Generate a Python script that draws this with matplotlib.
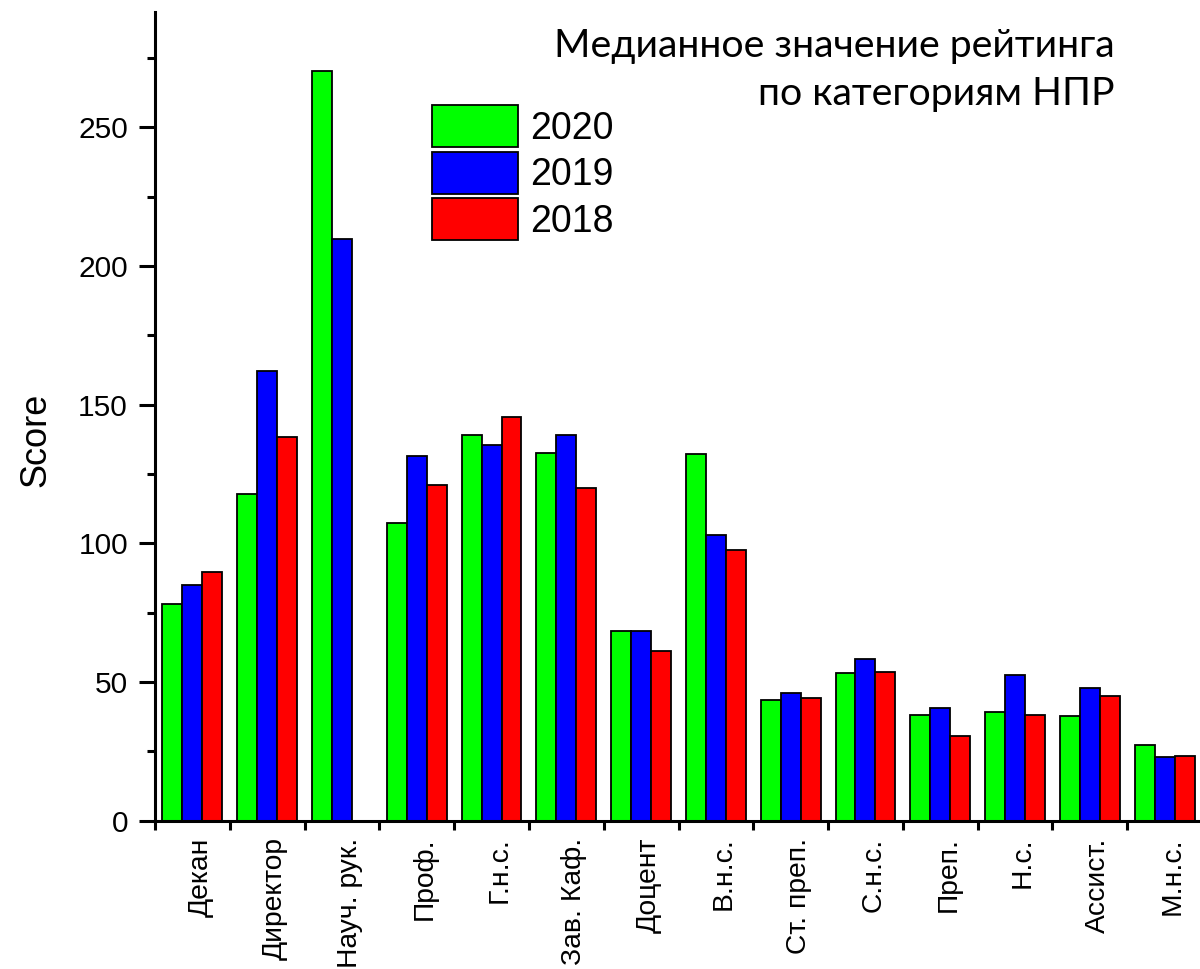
import matplotlib
matplotlib.use('Agg')
import matplotlib.pyplot as plt
import matplotlib.transforms as mtransforms
from matplotlib.ticker import MultipleLocator
import numpy as np

# categories and medians
categories = ['Декан', 'Директор', 'Науч. рук.', 'Проф.', 'Г.н.с.', 'Зав. Каф.', 'Доцент',
              'В.н.с.', 'Ст. преп.', 'С.н.с.', 'Преп.', 'Н.с.', 'Ассист.', 'М.н.с.']
vals_2020 = [78.2, 117.8, 270.2, 107.5, 139.1, 132.5, 68.5, 132.3, 43.7, 53.2, 38.1, 39.2, 37.9, 27.3]
vals_2019 = [84.9, 162.0, 209.8, 131.4, 135.4, 139.1, 68.5, 103.1, 46.2, 58.4, 40.6, 52.6, 47.8, 22.9]
vals_2018 = [89.7, 138.5, 0.0, 121.1, 145.5, 119.9, 61.3, 97.7, 44.3, 53.8, 30.5, 38.3, 44.9, 23.2]
years = ['2020', '2019', '2018']
colors = ['#00FF00', '#0000FF', '#FF0000']

plt.rcParams['font.family'] = ['Liberation Sans', 'DejaVu Sans']

fig = plt.figure(figsize=(12, 9.69), dpi=100)
ax = fig.add_axes([155 / 1200, 1 - 820.8 / 969, 1047 / 1200, 808.8 / 969])

x = np.arange(len(categories))
w = 0.267
for i, (vals, lab, c) in enumerate(zip([vals_2020, vals_2019, vals_2018], years, colors)):
    ax.bar(x + (i - 1) * w, vals, width=w, color=c, edgecolor='black',
           linewidth=1.3, label=lab, zorder=2)

ax.set_xlim(-0.5, len(categories) - 0.5)
ax.set_ylim(0, 291.6)

for s in ['top', 'right']:
    ax.spines[s].set_visible(False)
for s in ['left', 'bottom']:
    ax.spines[s].set_linewidth(2.2)

# y ticks
ax.yaxis.set_major_locator(MultipleLocator(50))
ax.yaxis.set_minor_locator(MultipleLocator(25))
ax.tick_params(axis='y', which='major', direction='out', length=11.5, width=2.2,
               labelsize=21.5, pad=8)
ax.tick_params(axis='y', which='minor', direction='out', length=6, width=2.2)

# x: labels at group centres, tick marks at group boundaries
ax.set_xticks(x)
ax.set_xticklabels(categories, rotation=90, ha='center', va='top')
ax.set_xticks(np.arange(len(categories)) - 0.5, minor=True)
ax.tick_params(axis='x', which='major', length=0, labelsize=20.3, pad=12)
ax.tick_params(axis='x', which='minor', direction='out', length=6.5, width=2.2)
offset = mtransforms.ScaledTranslation(8 / 100, 0, fig.dpi_scale_trans)
for lbl in ax.get_xticklabels():
    lbl.set_transform(lbl.get_transform() + offset)

ax.set_ylabel('Score', fontsize=26, va='center')
ax.yaxis.set_label_coords(-0.114, 0.471)

fig.legend(loc='upper left', bbox_to_anchor=(432 / 1200, 1 - 105 / 969),
           frameon=False, fontsize=27, borderpad=0, borderaxespad=0,
           handlelength=2.29, handleheight=1.35, labelspacing=0.12,
           handletextpad=0.32)

fig.text(1115 / 1200, 1 - 28 / 969, 'Медианное значение рейтинга\nпо категориям НПР',
         ha='right', va='top', fontsize=28.3, family=['Lato', 'DejaVu Sans'],
         multialignment='right', linespacing=1.4)

fig.savefig('out.png', dpi=100)
